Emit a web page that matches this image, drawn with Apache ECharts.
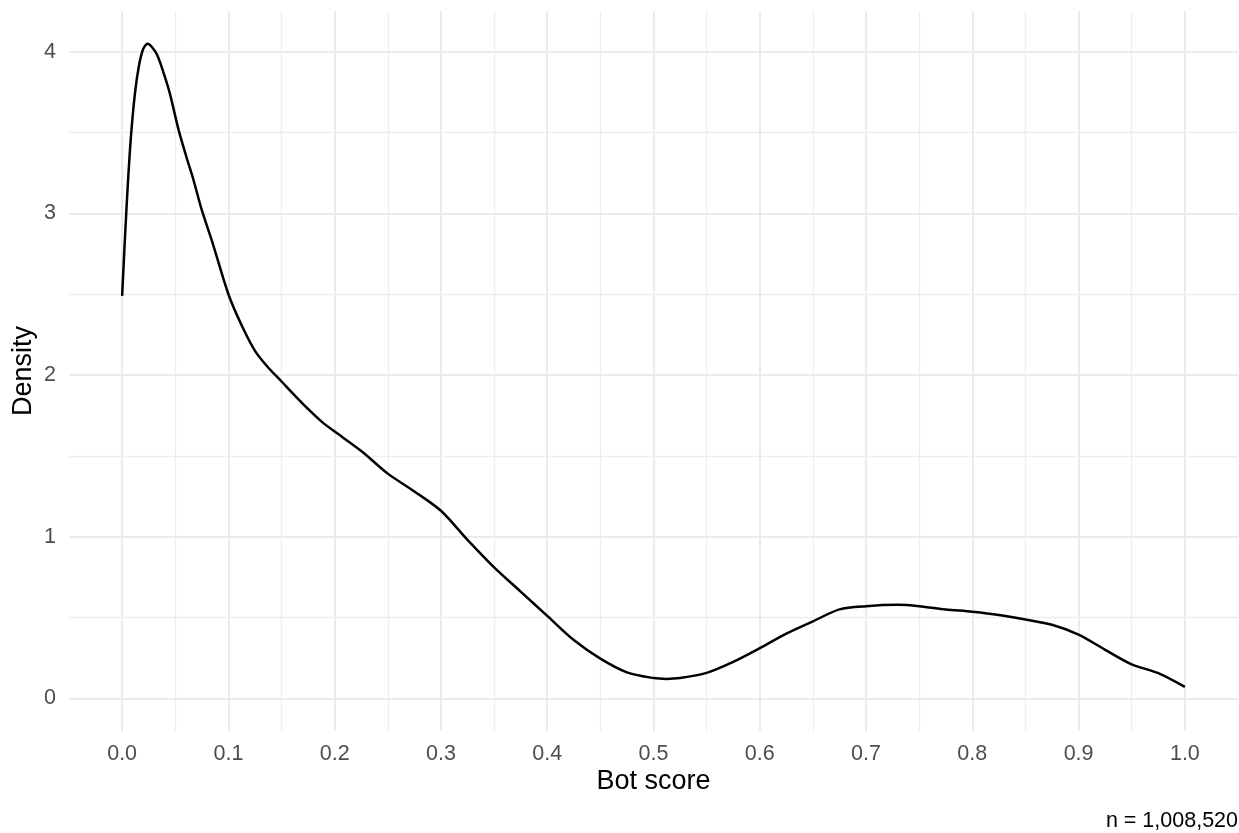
<!DOCTYPE html>
<html>
<head>
<meta charset="utf-8">
<script src="https://cdn.jsdelivr.net/npm/echarts@6/dist/echarts.min.js"></script>
<style>
html,body{margin:0;padding:0;background:#fff;}
#chart{width:1239px;height:833px;}
</style>
</head>
<body>
<div id="chart"></div>
<script>
// Density curve
const botScore = [0, 0.004, 0.008, 0.012, 0.016, 0.02, 0.024, 0.028, 0.033, 0.039, 0.045, 0.053, 0.06, 0.067, 0.075, 0.085, 0.1, 0.113, 0.125, 0.137, 0.15, 0.163, 0.175, 0.188, 0.2, 0.225, 0.25, 0.275, 0.3, 0.325, 0.35, 0.375, 0.4, 0.425, 0.45, 0.475, 0.5, 0.512, 0.525, 0.55, 0.575, 0.6, 0.625, 0.65, 0.675, 0.7, 0.73, 0.75, 0.775, 0.8, 0.825, 0.85, 0.875, 0.9, 0.925, 0.95, 0.975, 1.0];
const density = [2.49, 3.02, 3.45, 3.74, 3.92, 4.02, 4.05, 4.03, 3.98, 3.87, 3.74, 3.52, 3.36, 3.21, 3.02, 2.82, 2.50, 2.30, 2.15, 2.05, 1.96, 1.87, 1.79, 1.71, 1.65, 1.53, 1.39, 1.28, 1.16, 0.98, 0.81, 0.66, 0.51, 0.36, 0.245, 0.16, 0.125, 0.12, 0.125, 0.157, 0.225, 0.31, 0.40, 0.476, 0.55, 0.57, 0.578, 0.57, 0.55, 0.535, 0.515, 0.487, 0.455, 0.394, 0.30, 0.21, 0.155, 0.07];

const xTicks = [0, 0.1, 0.2, 0.3, 0.4, 0.5, 0.6, 0.7, 0.8, 0.9, 1.0];
const xMinorTicks = [0.05, 0.15, 0.25, 0.35, 0.45, 0.55, 0.65, 0.75, 0.85, 0.95];
const yTicks = [0, 1, 2, 3, 4];
const yMinorTicks = [0.5, 1.5, 2.5, 3.5];

const xLabel = 'Bot score';
const yLabel = 'Density';
const caption = 'n = 1,008,520';

const FONT = '"Liberation Sans", Arial, sans-serif';

const chart = echarts.init(document.getElementById('chart'));

const majorStyle = {color: '#EBEBEB', width: 2, type: 'solid'};
const minorStyle = {color: '#EEEEEE', width: 1.3, type: 'solid'};

const gridLines = [];
xTicks.forEach(v => gridLines.push({xAxis: v, lineStyle: majorStyle}));
xMinorTicks.forEach(v => gridLines.push({xAxis: v, lineStyle: minorStyle}));
yTicks.forEach(v => gridLines.push({yAxis: v, lineStyle: majorStyle}));
yMinorTicks.forEach(v => gridLines.push({yAxis: v, lineStyle: minorStyle}));

chart.setOption({
  animation: false,
  backgroundColor: '#ffffff',
  grid: {left: 69, right: 1, top: 11, bottom: 102, containLabel: false},
  xAxis: {
    type: 'value', min: -0.05, max: 1.05,
    axisLine: {show: false}, axisTick: {show: false}, splitLine: {show: false},
    axisLabel: {
      customValues: xTicks, margin: 12,
      formatter: v => Number(v).toFixed(1),
      color: '#4D4D4D', fontSize: 21.5, fontFamily: FONT
    }
  },
  yAxis: {
    type: 'value', min: -0.2025, max: 4.2525,
    axisLine: {show: false}, axisTick: {show: false}, splitLine: {show: false},
    axisLabel: {
      customValues: yTicks, margin: 13,
      formatter: v => String(Math.round(v)),
      color: '#4D4D4D', fontSize: 21.5, fontFamily: FONT
    }
  },
  graphic: [
    {type: 'text', x: 653.5, y: 782, z: 10,
     style: {text: xLabel, font: '27px ' + FONT, fill: '#000', textAlign: 'center', textVerticalAlign: 'middle', align: 'center', verticalAlign: 'middle'}},
    {type: 'text', x: 24, y: 371, rotation: Math.PI / 2, z: 10,
     style: {text: yLabel, font: '27px ' + FONT, fill: '#000', textAlign: 'center', textVerticalAlign: 'middle', align: 'center', verticalAlign: 'middle'}},
    {type: 'text', x: 1238, y: 821, z: 10,
     style: {text: caption, font: '21.5px ' + FONT, fill: '#000', textAlign: 'right', textVerticalAlign: 'middle', align: 'right', verticalAlign: 'middle'}}
  ],
  series: [
    {
      type: 'line', data: [], silent: true, z: 1,
      markLine: {silent: true, symbol: ['none', 'none'], label: {show: false}, z: 1,
        emphasis: {disabled: true}, data: gridLines}
    },
    {
      type: 'line', z: 10,
      data: botScore.map((x, i) => [x, density[i]]),
      smooth: 0.3, showSymbol: false, symbol: 'none',
      lineStyle: {color: '#000000', width: 2.5},
      clip: false
    }
  ]
});
</script>
</body>
</html>
